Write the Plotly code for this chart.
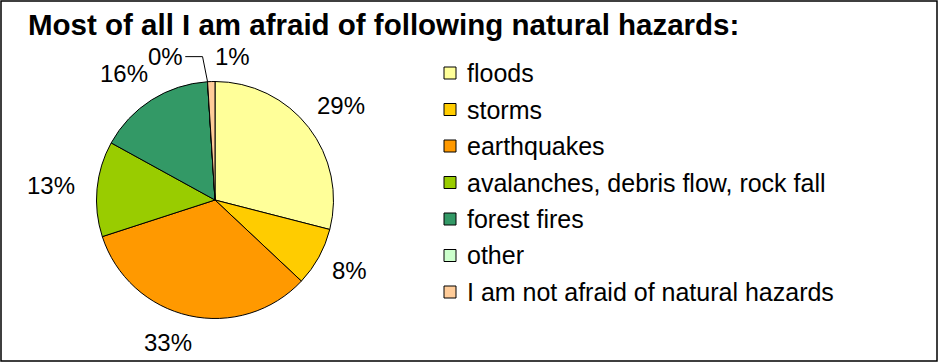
import math
import plotly.graph_objects as go

# Survey answers (share of respondents, %)
categories = [
    "floods",
    "storms",
    "earthquakes",
    "avalanches, debris flow, rock fall",
    "forest fires",
    "other",
    "I am not afraid of natural hazards",
]
shares = [29, 8, 33, 13, 16, 0, 1]
colors = ["#FFFF99", "#FFCC00", "#FF9900", "#99CC00", "#339966", "#CCFFCC", "#FFCC99"]
title_text = "Most of all I am afraid of following natural hazards:"

W, H = 940, 363
FONT = "Liberation Sans, Arial, sans-serif"

# pie geometry in pixels
CX, CY, R = 215.0, 200.0, 118.5


def px(x):
    return x / W


def py(y):
    return 1 - y / H


fig = go.Figure(
    go.Pie(
        labels=categories,
        values=shares,
        sort=False,
        direction="clockwise",
        rotation=0,
        marker=dict(colors=colors, line=dict(color="black", width=1)),
        textinfo="none",
        hoverinfo="label+percent",
        showlegend=False,
        domain=dict(x=[px(CX - R), px(CX + R)], y=[py(CY + R), py(CY - R)]),
    )
)

annotations = []
shapes = []

# percentage labels outside each slice
total = sum(shares)
label_font = 24
# small offsets so neighbouring labels near the top don't collide
nudge = {0: (1, 3), 1: (0, -3), 2: (-15, -2), 3: (-6, 0), 4: (-8, 4), 5: (-40, 1), 6: (22, 1)}
cum = 0.0
for i, v in enumerate(shares):
    mid = (cum + v / 2) / total * 2 * math.pi
    cum += v
    pct = round(100 * v / total)
    txt = f"{pct}%"
    tw = sum(0.889 if c == "%" else 0.556 for c in txt) * label_font
    hw, hh = tw / 2, label_font * 0.42
    s, c = math.sin(mid), math.cos(mid)
    d = R + 15 + hw * abs(s) + hh * abs(c)
    lx, ly = CX + d * s, CY - d * c
    dx, dy = nudge.get(i, (0, 0))
    lx, ly = lx + dx, ly + dy
    annotations.append(dict(
        x=px(lx), y=py(ly), xref="paper", yref="paper", text=txt, showarrow=False,
        xanchor="center", yanchor="middle", borderpad=0,
        font=dict(family=FONT, size=label_font, color="black"),
    ))
    if i == 5:
        # leader line from the label down to the slice edge
        ex, ey = CX + R * s, CY - R * c
        sx = lx + hw + 2
        shapes.append(dict(
            type="path", xref="paper", yref="paper",
            path=f"M {px(sx)} {py(ly)} L {px(ex - 5)} {py(ly)} L {px(ex)} {py(ey)}",
            line=dict(color="black", width=1),
        ))

# legend
LEG_X, LEG_Y0, LEG_STEP, SQ = 444, 73, 36.5, 12
for i, (name, col) in enumerate(zip(categories, colors)):
    yc = LEG_Y0 + i * LEG_STEP
    shapes.append(dict(
        type="rect", xref="paper", yref="paper",
        x0=px(LEG_X), x1=px(LEG_X + SQ), y0=py(yc + SQ / 2), y1=py(yc - SQ / 2),
        fillcolor=col, line=dict(color="black", width=1),
    ))
    annotations.append(dict(
        x=px(LEG_X + 21), y=py(yc), xref="paper", yref="paper", text=name, showarrow=False,
        xanchor="left", yanchor="middle", font=dict(family=FONT, size=25, color="black"),
    ))

# title
annotations.append(dict(
    x=px(27), y=py(24.5), xref="paper", yref="paper", text=f"<b>{title_text}</b>", showarrow=False,
    xanchor="left", yanchor="middle", borderpad=0,
    font=dict(family=FONT, size=29.5, color="black"),
))

# outer frame
shapes.append(dict(
    type="rect", xref="paper", yref="paper", x0=px(1), x1=px(W - 3), y0=py(H - 2), y1=py(1),
    line=dict(color="black", width=1.5), fillcolor="rgba(0,0,0,0)",
))

fig.update_layout(
    width=W, height=H,
    margin=dict(l=0, r=0, t=0, b=0),
    paper_bgcolor="white", plot_bgcolor="white",
    annotations=annotations, shapes=shapes,
    showlegend=False,
)

fig.write_html("out.html")
